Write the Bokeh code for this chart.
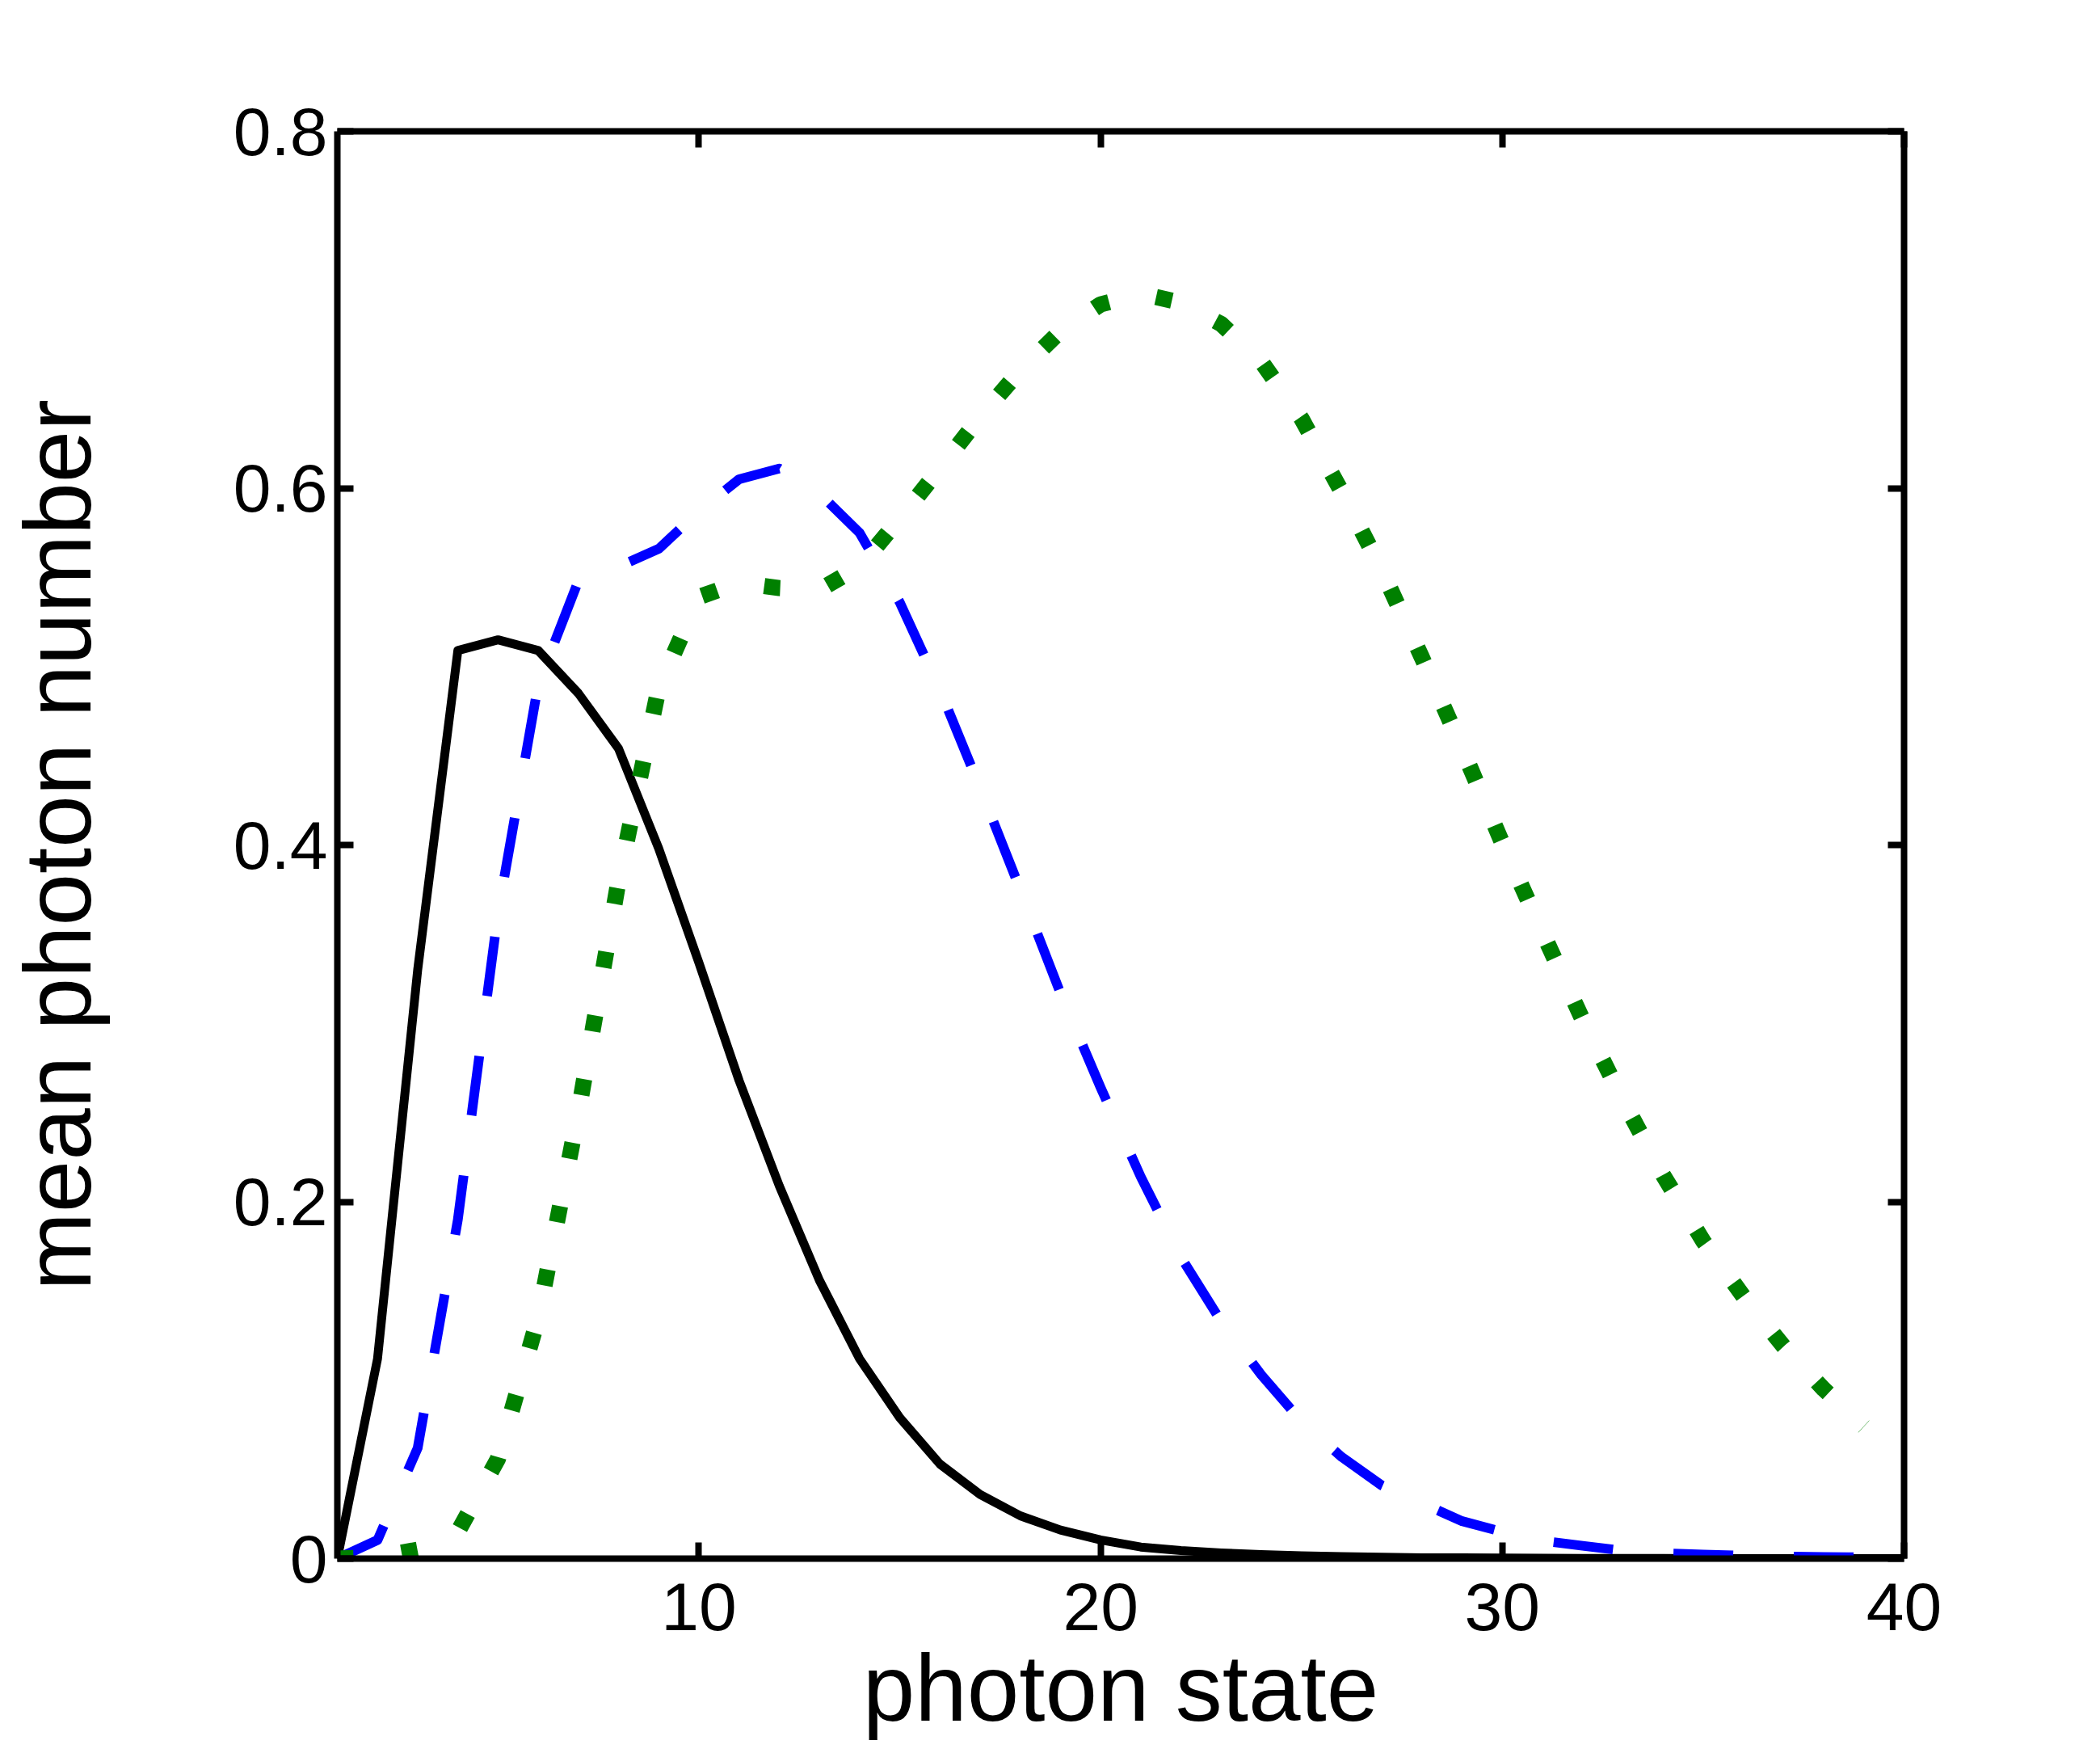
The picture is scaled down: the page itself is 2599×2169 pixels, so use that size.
from bokeh.plotting import figure
from bokeh.models import Range1d, LinearAxis, FixedTicker, CustomJSTickFormatter
from bokeh.embed import file_html
from bokeh.resources import INLINE

# ---- data ----
photon_state = list(range(1, 41))
state_green = list(range(1, 40))

black_solid = [0, 0.112, 0.33, 0.509, 0.515, 0.509, 0.485, 0.454, 0.398, 0.334,
               0.268, 0.209, 0.156, 0.112, 0.079, 0.053, 0.036, 0.024, 0.016, 0.0105,
               0.0065, 0.0045, 0.0032, 0.0023, 0.0016, 0.0011, 0.0008, 0.0005, 0.0004, 0.0003,
               0.0002, 0.0001, 0.0001, 0.0001, 0, 0, 0, 0, 0, 0]

blue_dashed = [0, 0.0104, 0.062, 0.19, 0.362, 0.49, 0.548, 0.556, 0.566, 0.587,
               0.605, 0.611, 0.597, 0.575, 0.536, 0.487, 0.432, 0.375, 0.317, 0.264,
               0.214, 0.169, 0.133, 0.103, 0.077, 0.057, 0.041, 0.031, 0.021, 0.015,
               0.010, 0.0072, 0.0045, 0.003, 0.0023, 0.0016, 0.0012, 0.0009, 0.0007, 0.0005]

green_dotted = [0, 0.0008, 0.005, 0.015, 0.056, 0.135, 0.25, 0.38, 0.488, 0.539,
                0.547, 0.544, 0.543, 0.556, 0.583, 0.611, 0.640, 0.666, 0.688, 0.703,
                0.709, 0.704, 0.692, 0.671, 0.639, 0.598, 0.554, 0.505, 0.454, 0.401,
                0.351, 0.302, 0.257, 0.215, 0.178, 0.147, 0.119, 0.095, 0.074]

x_ticks = [10, 20, 30, 40]
y_ticks = [0, 0.2, 0.4, 0.6, 0.8]

FONT = "Liberation Sans"

p = figure(frame_width=1939, frame_height=1766,
           min_border_left=417, min_border_right=226,
           min_border_top=162, min_border_bottom=225,
           x_range=Range1d(1, 40), y_range=Range1d(0, 0.8),
           output_backend="svg", toolbar_location=None,
           background_fill_color="white", border_fill_color="white")
p.outline_line_color = None
p.grid.visible = False

p.line(photon_state, black_solid, line_color="#000000", line_width=11, line_join="round")
p.line(photon_state, blue_dashed, line_color="#0000ff", line_width=12,
       line_dash="74 75", line_join="round")
p.line(state_green, green_dotted, line_color="#008000", line_width=20,
       line_dash="20 60")

fmt_y = CustomJSTickFormatter(code="return tick == 0 ? '0' : tick.toFixed(1);")
fmt_x = CustomJSTickFormatter(code="return tick.toFixed(0);")
blank = CustomJSTickFormatter(code="return '';")

def style(ax):
    ax.axis_line_width = 8
    ax.axis_line_color = "black"
    ax.major_tick_line_width = 8
    ax.major_tick_line_color = "black"
    ax.major_tick_in = 20
    ax.major_tick_out = 0
    ax.minor_tick_line_color = None
    ax.major_label_text_font = FONT
    ax.major_label_text_font_size = "84px"
    ax.major_label_text_color = "black"
    ax.axis_label_text_font = FONT
    ax.axis_label_text_font_size = "116px"
    ax.axis_label_text_font_style = "normal"
    ax.axis_label_text_color = "black"

xa = p.xaxis[0]
xa.ticker = FixedTicker(ticks=x_ticks)
xa.formatter = fmt_x
style(xa)
xa.major_label_standoff = 30
xa.axis_label = "photon state"
xa.axis_label_standoff = 4

ya = p.yaxis[0]
ya.ticker = FixedTicker(ticks=y_ticks)
ya.formatter = fmt_y
style(ya)
ya.major_label_standoff = 12
ya.axis_label = "mean photon number"
ya.axis_label_standoff = 149

top = LinearAxis(ticker=FixedTicker(ticks=x_ticks), formatter=blank)
style(top)
top.major_label_standoff = 0
p.add_layout(top, "above")

right = LinearAxis(ticker=FixedTicker(ticks=y_ticks), formatter=blank)
style(right)
right.major_label_standoff = 0
p.add_layout(right, "right")

open("out.html", "w").write(file_html(p, INLINE))
